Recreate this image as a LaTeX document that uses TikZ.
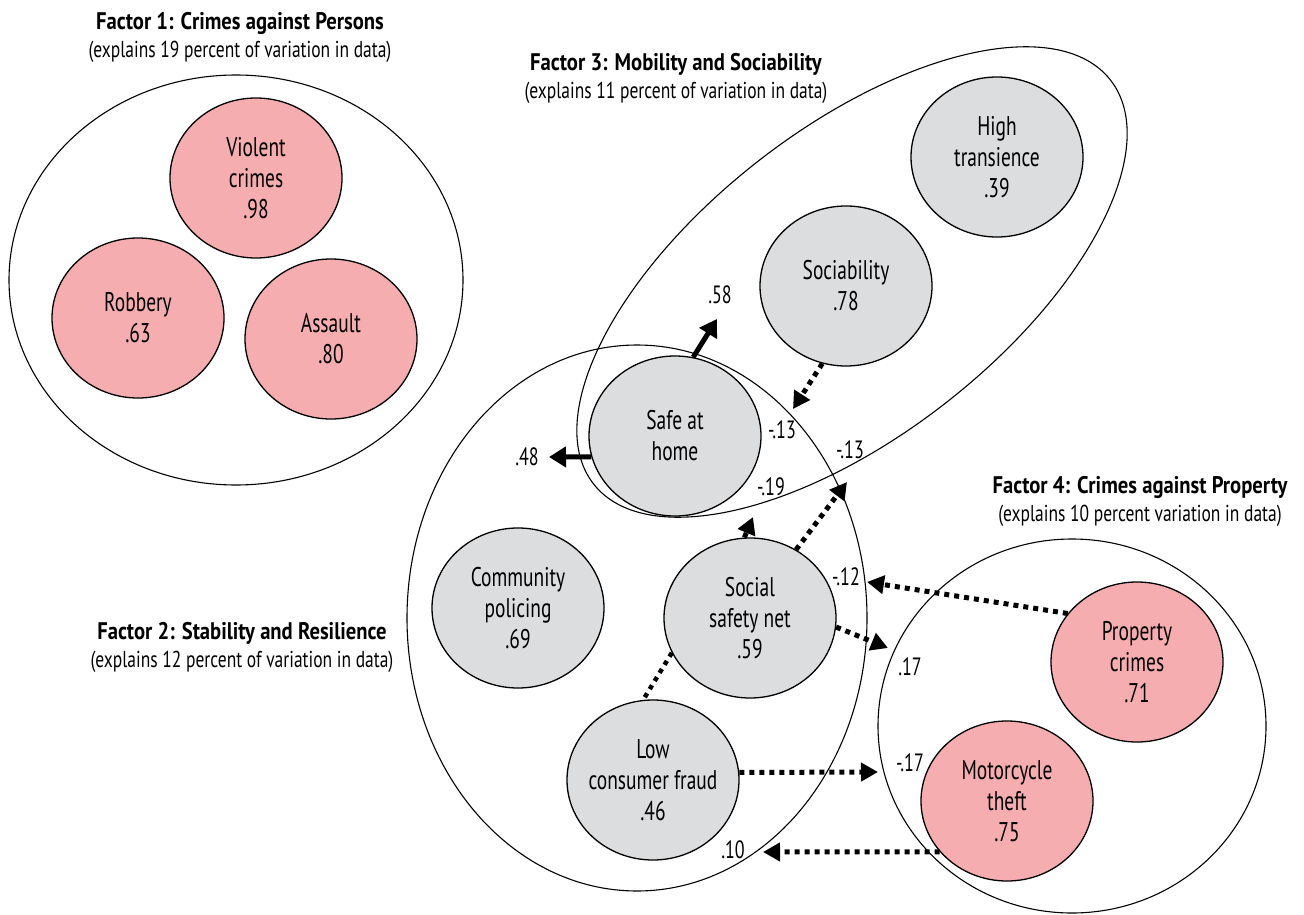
\documentclass[tikz,border=0pt]{standalone}
\usepackage{fontspec}
\setmainfont[FakeStretch=0.76, BoldFeatures={FakeStretch=0.86}]{PT Sans}
\newfontfamily\nfont[FakeStretch=0.72]{PT Sans}
\usetikzlibrary{shapes.geometric,arrows.meta}
\definecolor{pinkf}{RGB}{246,173,176}
\definecolor{grayf}{RGB}{220,221,223}
\newcommand\vnode[4]{\node[#1] (#2) at (#3) {};\node[vtext] (#2t) at (#2) {#4};}
\begin{document}
\begin{tikzpicture}[x=1pt,y=-1pt,
  grp/.style={draw, ellipse, line width=1.1pt, inner sep=0pt},
  vshape/.style={draw, ellipse, line width=1.3pt, minimum width=172pt, minimum height=160pt, inner sep=0pt},
  pinkv/.style={vshape, fill=pinkf},
  grayv/.style={vshape, fill=grayf},
  vtext/.style={align=center, font=\nfont\fontsize{27}{31}\selectfont, inner sep=0pt},
  lab/.style={font=\nfont\fontsize{25}{28}\selectfont, inner sep=0pt},
  ttl/.style={font=\bfseries\fontsize{24}{28}\selectfont, anchor=base, inner sep=0pt},
  subt/.style={font=\fontsize{23}{27}\selectfont, anchor=base, inner sep=0pt},
  solidarr/.style={line width=5pt, -{Triangle[length=17pt,width=20pt]}},
  dotarr/.style={line width=5pt, dash pattern=on 5pt off 5pt, -{Triangle[length=17pt,width=18pt]}},
  dotline/.style={line width=4.5pt, dash pattern=on 4.5pt off 5pt}]
\fill[white] (0,0) rectangle (1304,915);
\useasboundingbox (0,0) rectangle (1304,915);

% group outlines
\node[grp, minimum width=454pt, minimum height=410pt] (f1) at (236,280) {};
\node[grp, minimum width=460pt, minimum height=546pt] (f2) at (637,618) {};
\node[grp, minimum width=656pt, minimum height=306pt, rotate=38] (f3) at (852,282) {};
\node[grp, minimum width=388pt, minimum height=374pt] (f4) at (1072,726) {};

% titles
\node[ttl] (t1) at (240,30) {Factor 1: Crimes against Persons};
\node[subt] (s1) at (240,58) {(explains 19 percent of variation in data)};
\node[ttl] (t3) at (676,71) {Factor 3: Mobility and Sociability};
\node[subt] (s3) at (676,99) {(explains 11 percent of variation in data)};
\node[ttl] (t2) at (242,639) {Factor 2: Stability and Resilience};
\node[subt] (s2) at (242,667) {(explains 12 percent of variation in data)};
\node[ttl] (t4) at (1140,493) {Factor 4: Crimes against Property};
\node[subt] (s4) at (1140,521) {(explains 10 percent variation in data)};

% variables
\vnode{pinkv}{viol}{256,178}{Violent\\crimes\\.98}
\vnode{pinkv}{rob}{138,318}{Robbery\\.63}
\vnode{pinkv}{ass}{331,339}{Assault\\.80}
\vnode{grayv}{high}{997,157}{High\\transience\\.39}
\vnode{grayv}{soc}{846,286}{Sociability\\.78}
\vnode{grayv}{sah}{675,436}{Safe at\\home}
\vnode{grayv}{com}{518,608}{Community\\policing\\.69}
\vnode{grayv}{ssn}{750,618}{Social\\safety net\\.59}
\vnode{grayv}{lcf}{653,780}{Low\\consumer fraud\\.46}
\vnode{pinkv}{prop}{1137,662}{Property\\crimes\\.71}
\vnode{pinkv}{moto}{1007,801}{Motorcycle\\theft\\.75}

% labels
\node[lab] (l58) at (720,295) {.58};
\node[lab] (l48) at (527,457) {.48};
\node[lab] (l13a) at (782,430) {-.13};
\node[lab] (l13b) at (850,450) {-.13};
\node[lab] (l19) at (771,487) {-.19};
\node[lab] (l12) at (846,577) {-.12};
\node[lab] (l17a) at (910,667) {.17};
\node[lab] (l17b) at (910,763) {-.17};
\node[lab] (l10) at (733,850) {.10};

% free ends
\coordinate (e58) at (717,319);
\coordinate (e48) at (549,457);
\coordinate (esoc) at (793,409);
\coordinate (eup) at (753,517);
\coordinate (eur) at (847,482);
\coordinate (eprop) at (867,582);
\coordinate (essn) at (888,648);
\coordinate (elcf) at (878,772);
\coordinate (emoto) at (763,852);

% connectors
\draw[solidarr] (sah.77) -- (e58);
\draw[solidarr] (sah.194) -- (e48);
\draw[dotarr] (soc.253) -- (esoc);
\draw[dotarr] (ssn.94) -- (eup);
\draw[dotarr] (ssn.56) -- (eur);
\draw[dotarr] (prop.145) -- (eprop);
\draw[dotarr] (ssn.354) -- (essn);
\draw[dotline] (ssn.204) -- (lcf.97);
\draw[dotarr] (lcf.5) -- (elcf);
\draw[dotarr] (moto.217) -- (emoto);
\end{tikzpicture}
\end{document}
